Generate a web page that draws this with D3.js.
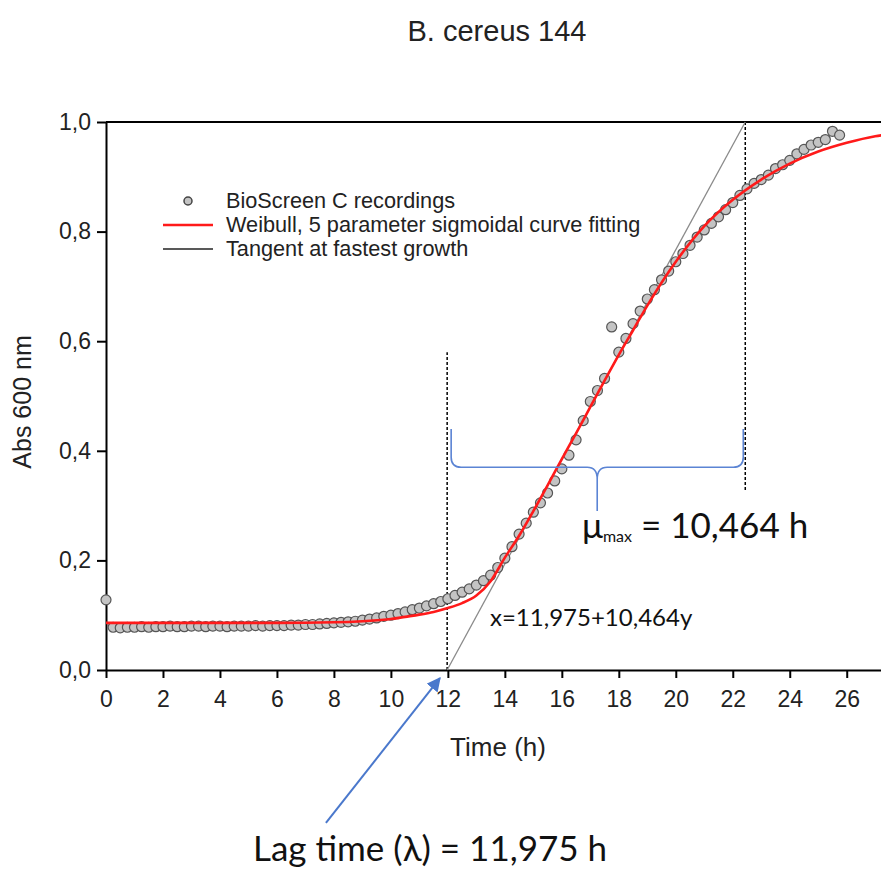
<html>
<head>
    <meta charset="UTF-8" />
    <script src="https://d3js.org/d3.v7.min.js"></script>
    <style>
        body { margin: 0; background: white; }
        .axis path, .axis line { stroke: black; stroke-width: 2px; }
        .axis text { font-family: "Liberation Sans", Arial, sans-serif; font-size: 23px; fill: #222; }
        .note { font-family: Lato, "Open Sans", sans-serif; fill: #111; }
    </style>
</head>
<body>
<svg id="chart" width="881" height="871"></svg>
<script>
    // recordings (time in h, absorbance)
    const recT = [0,0.25,0.5,0.75,1,1.25,1.5,1.75,2,2.25,2.5,2.75,3,3.25,3.5,3.75,4,4.25,4.5,4.75,
                  5,5.25,5.5,5.75,6,6.25,6.5,6.75,7,7.25,7.5,7.75,8,8.25,8.5,8.75,9,9.25,9.5,9.75,
                  10,10.25,10.5,10.75,11,11.25,11.5,11.75,12,12.25,12.5,12.75,13,13.25,13.5,13.75,
                  14,14.25,14.5,14.75,15,15.25,15.5,15.75,16,16.25,16.5,16.75,17,17.25,17.5,17.75,
                  18,18.25,18.5,18.75,19,19.25,19.5,19.75,20,20.25,20.5,20.75,21,21.25,21.5,21.75,
                  22,22.25,22.5,22.75,23,23.25,23.5,23.75,24,24.25,24.5,24.75,25,25.25,25.5,25.75];
    const recV = [0.128,0.078,0.077,0.078,0.078,0.079,0.078,0.079,0.079,0.080,0.079,0.079,0.080,0.080,0.079,0.080,0.080,0.079,0.080,0.080,
                  0.080,0.081,0.080,0.081,0.081,0.081,0.082,0.082,0.083,0.083,0.084,0.085,0.086,0.087,0.088,0.089,0.091,0.093,0.095,0.098,
                  0.100,0.103,0.106,0.110,0.113,0.117,0.121,0.125,0.130,0.136,0.142,0.148,0.155,0.163,0.173,0.187,
                  0.204,0.225,0.248,0.268,0.288,0.305,0.323,0.345,0.367,0.392,0.420,0.455,0.490,0.510,0.532,0.626,
                  0.580,0.605,0.632,0.655,0.677,0.694,0.712,0.728,0.745,0.760,0.775,0.790,0.803,0.815,0.827,0.840,
                  0.853,0.866,0.878,0.888,0.895,0.903,0.915,0.922,0.930,0.942,0.950,0.958,0.963,0.968,0.983,0.976];

    // Weibull fit
    const fitT = [0,2,4,6,8,9,10,10.5,11,11.5,12,12.5,13,13.5,14,14.5,15,15.5,16,16.5,17,17.5,18,18.5,19,20,21,22,23,24,25,26,27,28];
    const fitV = [0.086,0.086,0.086,0.086,0.087,0.089,0.093,0.097,0.101,0.106,0.113,0.122,0.136,0.162,0.205,0.245,0.290,0.337,0.385,0.432,0.480,0.528,0.575,0.620,0.665,0.745,0.810,0.858,0.895,0.924,0.946,0.962,0.974,0.980];

    const xTicks = [0,2,4,6,8,10,12,14,16,18,20,22,24,26];
    const yTicks = [0,0.2,0.4,0.6,0.8,1.0];

    const lagTime = 11.975;
    const muMax = 10.464;

    const legendLabels = ["BioScreen C recordings", "Weibull, 5 parameter sigmoidal curve fitting", "Tangent at fastest growth"];

    const svg = d3.select("#chart");
    const x = d3.scaleLinear().domain([0, 28]).range([106, 903.7]);
    const y = d3.scaleLinear().domain([0, 1]).range([670, 122]);

    const locale = d3.formatLocale({decimal: ",", thousands: ".", grouping: [3], currency: ["", ""]});
    const f1 = locale.format(".1f");

    svg.append("rect").attr("width", 881).attr("height", 871).attr("fill", "white");

    // title
    svg.append("text")
        .attr("x", 497).attr("y", 41)
        .attr("text-anchor", "middle")
        .style("font-family", "Liberation Sans, Arial, sans-serif")
        .style("font-size", "29px").style("fill", "#222")
        .text("B. cereus 144");

    // top frame line
    svg.append("line")
        .attr("x1", x(0)).attr("x2", 881)
        .attr("y1", y(1)).attr("y2", y(1))
        .attr("stroke", "black").attr("stroke-width", 2);

    svg.append("g").attr("class", "axis")
        .attr("transform", "translate(0," + y(0) + ")")
        .call(d3.axisBottom(x).tickValues(xTicks).tickSize(8).tickSizeOuter(0).tickPadding(13));

    svg.append("g").attr("class", "axis")
        .attr("transform", "translate(" + x(0) + ",0)")
        .call(d3.axisLeft(y).tickValues(yTicks).tickFormat(f1).tickSize(9).tickSizeOuter(0).tickPadding(6));

    // axis titles
    svg.append("text")
        .attr("x", 498).attr("y", 756)
        .attr("text-anchor", "middle")
        .style("font-family", "Liberation Sans, Arial, sans-serif")
        .style("font-size", "26px").style("fill", "#222")
        .text("Time (h)");

    svg.append("text")
        .attr("transform", "translate(31,402) rotate(-90)")
        .attr("text-anchor", "middle")
        .style("font-family", "Liberation Sans, Arial, sans-serif")
        .style("font-size", "25px").style("fill", "#222")
        .text("Abs 600 nm");

    // dashed guides at lag time and lag + mu
    svg.append("line")
        .attr("x1", x(lagTime)).attr("x2", x(lagTime))
        .attr("y1", y(0)).attr("y2", y(0.58))
        .attr("stroke", "black").attr("stroke-width", 1.5).attr("stroke-dasharray", "3,2");
    svg.append("line")
        .attr("x1", x(lagTime + muMax)).attr("x2", x(lagTime + muMax))
        .attr("y1", y(1)).attr("y2", y(0.325))
        .attr("stroke", "black").attr("stroke-width", 1.5).attr("stroke-dasharray", "3,2");

    // tangent: x = 11,975 + 10,464y
    svg.append("line")
        .attr("x1", x(lagTime)).attr("y1", y(0))
        .attr("x2", x(lagTime + muMax)).attr("y2", y(1))
        .attr("stroke", "#8a8a8a").attr("stroke-width", 1.3);

    // data points
    const recs = recT.map((t, i) => ({t: t, v: recV[i]}));
    svg.append("g").selectAll("circle").data(recs)
        .join("circle")
        .attr("cx", d => x(d.t))
        .attr("cy", d => y(d.v))
        .attr("r", 5)
        .attr("fill", "#c4c4c4")
        .attr("stroke", "#555")
        .attr("stroke-width", 1.2);

    // fitted curve
    const fit = fitT.map((t, i) => [t, fitV[i]]);
    svg.append("path").datum(fit)
        .attr("fill", "none")
        .attr("stroke", "#ff1a1a")
        .attr("stroke-width", 2.6)
        .attr("d", d3.line().x(d => x(d[0])).y(d => y(d[1])).curve(d3.curveMonotoneX));

    // legend
    const lg = svg.append("g").style("font-family", "Liberation Sans, Arial, sans-serif").style("font-size", "21.7px");
    lg.append("circle").attr("cx", 188).attr("cy", 201).attr("r", 4)
        .attr("fill", "#c4c4c4").attr("stroke", "#444").attr("stroke-width", 1.5);
    lg.append("line").attr("x1", 163).attr("x2", 213).attr("y1", 225).attr("y2", 225)
        .attr("stroke", "#ff1a1a").attr("stroke-width", 2.5);
    lg.append("line").attr("x1", 163).attr("x2", 213).attr("y1", 249).attr("y2", 249)
        .attr("stroke", "#222").attr("stroke-width", 1.5);
    lg.selectAll("text").data(legendLabels)
        .join("text")
        .attr("x", 226)
        .attr("y", (d, i) => 208 + i * 24)
        .style("fill", "#222")
        .text(d => d);

    // brace over the tangent span
    const bl = x(lagTime) + 4, br = x(lagTime + muMax) - 2, by = y(0.37);
    const bm = (bl + br) / 2, bTop = y(0.44), bTip = y(0.29);
    const brace = d3.path();
    brace.moveTo(bl, bTop);
    brace.lineTo(bl, by - 10);
    brace.quadraticCurveTo(bl, by, bl + 10, by);
    brace.lineTo(bm - 10, by);
    brace.quadraticCurveTo(bm, by, bm, by + 12);
    brace.lineTo(bm, bTip);
    brace.moveTo(bm, by + 12);
    brace.quadraticCurveTo(bm, by, bm + 10, by);
    brace.lineTo(br - 10, by);
    brace.quadraticCurveTo(br, by, br, by - 10);
    brace.lineTo(br, bTop);
    svg.append("path").attr("d", brace.toString())
        .attr("fill", "none").attr("stroke", "#5b84d4").attr("stroke-width", 1.6);

    // annotations
    const mu = svg.append("text").attr("class", "note")
        .attr("x", 582).attr("y", 538).style("font-size", "35px");
    mu.append("tspan").text("μ");
    mu.append("tspan").attr("dy", 4).style("font-size", "16px").text("max");
    mu.append("tspan").attr("dy", -4).text(" = 10,464 h");

    svg.append("text").attr("class", "note")
        .attr("x", 490).attr("y", 626).style("font-size", "24px")
        .text("x=11,975+10,464y");

    svg.append("text").attr("class", "note")
        .attr("x", 253).attr("y", 861).style("font-size", "35px")
        .text("Lag time (λ) = 11,975 h");

    // arrow to lag time
    svg.append("defs").append("marker")
        .attr("id", "head").attr("viewBox", "0 0 10 10")
        .attr("refX", 9).attr("refY", 5)
        .attr("markerWidth", 7).attr("markerHeight", 7)
        .attr("orient", "auto")
        .append("path").attr("d", "M0,0 L10,5 L0,10 z").attr("fill", "#4a78cc");
    svg.append("line")
        .attr("x1", x(7.72)).attr("y1", y(-0.279))
        .attr("x2", x(11.72)).attr("y2", y(-0.015))
        .attr("stroke", "#4a78cc").attr("stroke-width", 2)
        .attr("marker-end", "url(#head)");
</script>
</body>
</html>
